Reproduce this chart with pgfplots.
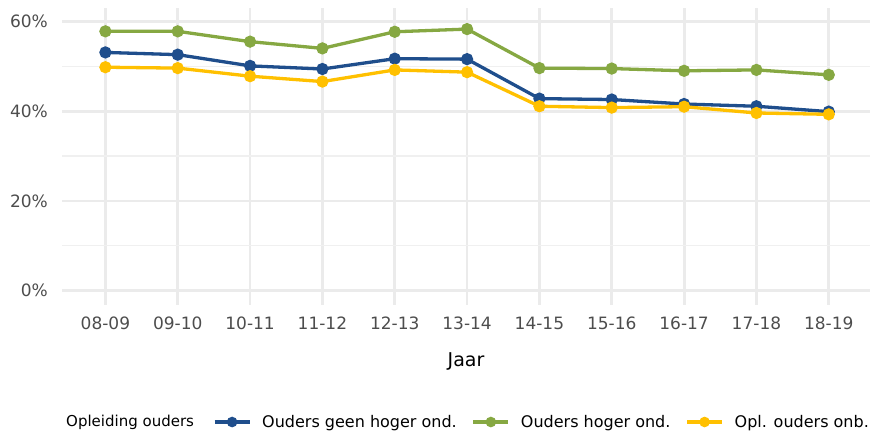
\documentclass[border=0pt]{standalone}
\usepackage{fontspec}
\setmainfont{DejaVu Sans}
\usepackage{pgfplots}
\pgfplotsset{compat=1.18}

\definecolor{cblue}{HTML}{1F4E8C}
\definecolor{cgreen}{HTML}{86A842}
\definecolor{cyellow}{HTML}{FFC000}
\definecolor{gridc}{HTML}{EBEBEB}
\definecolor{tickc}{HTML}{4D4D4D}

\pgfplotstableread{
idx blue green yellow
0  53.1 57.8 49.8
1  52.6 57.8 49.6
2  50.1 55.5 47.8
3  49.4 54.0 46.6
4  51.7 57.7 49.2
5  51.6 58.3 48.7
6  42.8 49.6 41.1
7  42.6 49.5 40.8
8  41.6 49.0 41.0
9  41.1 49.2 39.6
10 39.9 48.1 39.3
}\datatable

\begin{document}
\begin{tikzpicture}
\begin{axis}[
    scale only axis,
    width=808pt, height=297pt,
    xmin=-0.6, xmax=10.57,
    ymin=-3.2, ymax=63,
    clip mode=individual,
    axis line style={draw=none},
    major tick length=0pt, minor tick length=0pt,
    xtick={0,...,10},
    xticklabels={08-09,09-10,10-11,11-12,12-13,13-14,14-15,15-16,16-17,17-18,18-19},
    ytick={0,20,40,60},
    yticklabels={0\%,20\%,40\%,60\%},
    minor ytick={10,30,50},
    /pgf/number format/assume math mode=true,
    xmajorgrids, ymajorgrids, yminorgrids,
    major grid style={gridc, line width=2.8pt},
    minor grid style={gridc!75, line width=1.4pt},
    xticklabel style={font=\fontsize{17}{20}\selectfont, text=tickc, inner sep=0pt, anchor=north, yshift=-12pt},
    yticklabel style={font=\fontsize{17}{20}\selectfont, text=tickc, inner sep=0pt, anchor=east, xshift=-14pt},
    xlabel={Jaar},
    xlabel style={font=\fontsize{19}{22}\selectfont, at={(axis description cs:0.5,-0.19)}, anchor=center},
    legend columns=-1,
    legend style={draw=none, fill=none, font=\fontsize{16}{19}\selectfont,
        at={(axis description cs:0.1869,-0.394)}, anchor=west,
        inner sep=0pt, outer sep=0pt,
        nodes={inner sep=0pt},
        /tikz/every odd column/.append style={column sep=11pt},
        /tikz/every even column/.append style={column sep=15pt}},
    legend image code/.code={
        \draw[line width=3.2pt, mark size=3.6pt, mark repeat=2, mark phase=2]
            plot coordinates {(0pt,0pt) (17.5pt,0pt) (35pt,0pt)};},
    every axis plot/.append style={line width=3.3pt, mark=*, mark size=4.4pt},
]
\addplot[cblue, mark options={fill=cblue}] table[x=idx, y=blue] {\datatable};
\addlegendentry{Ouders geen hoger ond.}
\addplot[cgreen, mark options={fill=cgreen}] table[x=idx, y=green] {\datatable};
\addlegendentry{Ouders hoger ond.}
\addplot[cyellow, mark options={fill=cyellow}] table[x=idx, y=yellow] {\datatable};
\addlegendentry{Opl. ouders onb.}
\node[anchor=west, inner sep=0pt, font=\fontsize{15}{18}\selectfont]
    at (axis description cs:0.005,-0.394) {Opleiding ouders};
\end{axis}
\pgfresetboundingbox
\path[use as bounding box] (current axis.south west) ++(-62pt,-126pt) rectangle ++(870pt,431pt);
\end{tikzpicture}
\end{document}
